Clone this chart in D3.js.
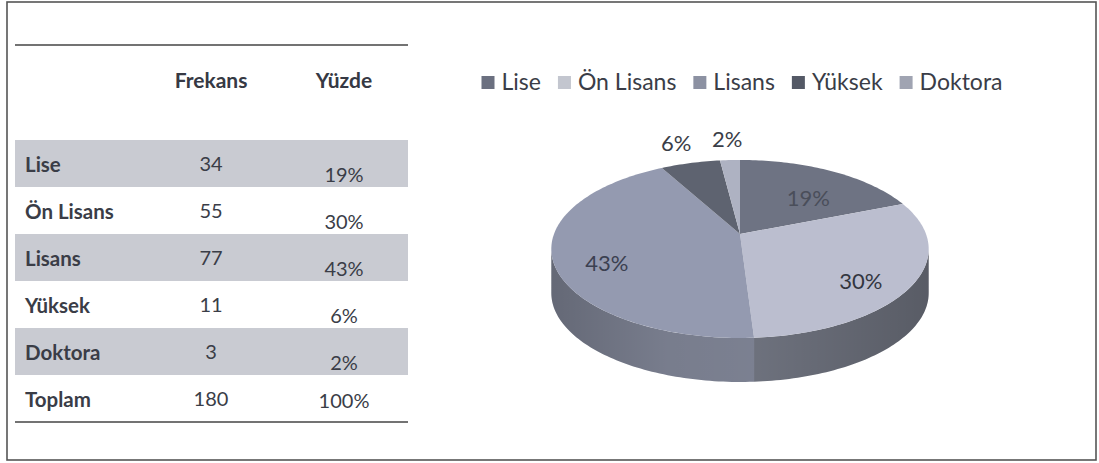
<!DOCTYPE html>
<html>
<head>
<meta charset="utf-8">
<script src="https://cdn.jsdelivr.net/npm/d3@7"></script>
<style>
  body { margin: 0; background: #fff; }
  svg { display: block; }
</style>
</head>
<body>
<svg id="chart" width="1099" height="463"></svg>
<script>
// Education level distribution (n = 180)
const categories = ["Lise", "Ön Lisans", "Lisans", "Yüksek", "Doktora"];
const frequencies = [34, 55, 77, 11, 3];
const shares = [19, 30, 43, 6, 2];
const percentLabels = ["19%", "30%", "43%", "6%", "2%"];
const columnHeaders = ["Frekans", "Yüzde"];
const totalRow = ["Toplam", "180", "100%"];

const topColors  = ["#6e7383", "#bbbecf", "#949ab0", "#5e6370", "#aeb2c2"];
const sideColors = ["#5c606d", "#6f737f", "#7e8394", "#4d515c", "#8f93a2"];
const keyColors  = ["#6b7080", "#c3c6cf", "#8c91a2", "#545966", "#a0a4b2"];

const svg = d3.select("#chart");
const FONT = "Lato, 'Open Sans', sans-serif";
const ink = "#3a3d47";

// outer frame
svg.append("rect")
  .attr("x", 7).attr("y", 2).attr("width", 1089).attr("height", 458)
  .attr("fill", "none").attr("stroke", "#555").attr("stroke-width", 1.6);

// ---------- table ----------
const table = svg.append("g");
const tLeft = 15, tRight = 408;
const rowKeys = [...categories, totalRow[0]];
const y = d3.scaleBand().domain(rowKeys).range([140, 422]).paddingInner(0);
const colX = { label: 25, freq: 211, pct: 344 };

table.append("line").attr("x1", tLeft).attr("x2", tRight).attr("y1", 45).attr("y2", 45)
  .attr("stroke", "#444").attr("stroke-width", 1.6);
table.append("line").attr("x1", tLeft).attr("x2", tRight).attr("y1", y.range()[1]).attr("y2", y.range()[1])
  .attr("stroke", "#444").attr("stroke-width", 1.6);

table.selectAll("text.head").data(columnHeaders).join("text")
  .attr("class", "head")
  .attr("x", (d, i) => i === 0 ? colX.freq : colX.pct)
  .attr("y", 88)
  .attr("text-anchor", "middle")
  .attr("font-family", FONT).attr("font-weight", 700).attr("font-size", 21)
  .attr("fill", "#363944")
  .text(d => d);

// shaded bands on alternating rows
table.selectAll("rect.band").data(rowKeys.filter((d, i) => i % 2 === 0)).join("rect")
  .attr("class", "band")
  .attr("x", tLeft).attr("width", tRight - tLeft)
  .attr("y", d => y(d)).attr("height", y.bandwidth())
  .attr("fill", "#c9cbd2");

const rows = categories.map((c, i) => ({ label: c, freq: String(frequencies[i]), pct: percentLabels[i], total: false }))
  .concat([{ label: totalRow[0], freq: totalRow[1], pct: totalRow[2], total: true }]);

const rowG = table.selectAll("g.row").data(rows).join("g")
  .attr("class", "row")
  .attr("transform", d => `translate(0,${y(d.label)})`);

rowG.append("text")
  .attr("x", colX.label).attr("y", 32)
  .attr("font-family", FONT).attr("font-weight", 700).attr("font-size", 20.5)
  .attr("fill", ink).text(d => d.label);
rowG.append("text")
  .attr("x", colX.freq).attr("y", 31).attr("text-anchor", "middle")
  .attr("font-family", FONT).attr("font-size", 20)
  .attr("fill", ink).text(d => d.freq);
rowG.append("text")
  .attr("x", colX.pct).attr("y", d => d.total ? 33 : 42).attr("text-anchor", "middle")
  .attr("font-family", FONT).attr("font-size", 20)
  .attr("fill", ink).text(d => d.pct);

// ---------- 3D pie (tilted disc with perspective) ----------
// apex = projected centre; A, B = horizontal/vertical half-axes; k = perspective strength
const X0 = 740, Y0 = 234, A = 186, B = 86.5, K = 0.168, depth = 44;
function project(r, a) {
  const u = r * Math.sin(a), v = r * Math.cos(a);
  const s = 1 / (1 + K * v);
  return [X0 + A * u * s, Y0 - B * v * s];
}
const arcs = d3.pie().sort(null).value(d => d)(shares);
const line = d3.line();

function rimPoints(a0, a1, dy = 0) {
  const n = Math.max(2, Math.ceil((a1 - a0) / 0.02));
  return d3.range(n + 1).map(k => {
    const p = project(1, a0 + (a1 - a0) * k / n);
    return [p[0], p[1] + dy];
  });
}

const defs = svg.append("defs");
const shade = defs.append("linearGradient").attr("id", "sideShade")
  .attr("gradientUnits", "userSpaceOnUse")
  .attr("x1", X0 - A).attr("x2", X0 + A).attr("y1", 0).attr("y2", 0);
shade.append("stop").attr("offset", 0).attr("stop-color", "#000").attr("stop-opacity", 0.2);
shade.append("stop").attr("offset", 0.3).attr("stop-color", "#000").attr("stop-opacity", 0.05);
shade.append("stop").attr("offset", 0.55).attr("stop-color", "#000").attr("stop-opacity", 0.02);
shade.append("stop").attr("offset", 1).attr("stop-color", "#000").attr("stop-opacity", 0.2);

// front-wall visibility: angle at which the rim is widest on each side
const turn = Math.acos(-K);
const pie = svg.append("g");
arcs.forEach((d, i) => {
  const s = Math.max(d.startAngle, turn), e = Math.min(d.endAngle, 2 * Math.PI - turn);
  if (e <= s) return;
  const pts = rimPoints(s, e).concat(rimPoints(s, e, depth).reverse());
  const path = line(pts) + "Z";
  pie.append("path").attr("d", path).attr("fill", sideColors[i]);
  pie.append("path").attr("d", path).attr("fill", "url(#sideShade)");
});
pie.selectAll("path.top").data(arcs).join("path")
  .attr("class", "top")
  .attr("d", d => line([project(0, 0), ...rimPoints(d.startAngle, d.endAngle)]) + "Z")
  .attr("fill", (d, i) => topColors[i]);

// data labels: large slices inside the face, small slices beyond the rim
const labelColors = ["#4a4e5a", "#33363f", "#3b4050", "#3a3d47", "#3a3d47"];
pie.selectAll("text.lbl").data(arcs).join("text")
  .attr("class", "lbl")
  .attr("text-anchor", "middle")
  .attr("font-family", FONT).attr("font-size", 22)
  .attr("fill", (d, i) => labelColors[i])
  .each(function (d) {
    const m = (d.startAngle + d.endAngle) / 2;
    const inside = d.data >= 10;
    const p = project(inside ? 0.72 : 1.35, m);
    d3.select(this).attr("x", p[0]).attr("y", p[1] + (inside ? 19 : 8));
  })
  .text((d, i) => percentLabels[i]);

// ---------- legend ----------
const legend = svg.append("g");
const items = legend.selectAll("g").data(categories).join("g");
items.append("rect").attr("width", 13).attr("height", 13).attr("y", -14)
  .attr("fill", (d, i) => keyColors[i]);
items.append("text").attr("x", 20).attr("y", 0)
  .attr("font-family", FONT).attr("font-size", 23).attr("fill", "#3a3d47")
  .text(d => d);
let xPos = 0;
items.each(function () {
  const w = 20 + this.querySelector("text").getComputedTextLength();
  d3.select(this).attr("transform", `translate(${xPos},90)`);
  xPos += w + 17;
});
const legendWidth = xPos - 17;
legend.attr("transform", `translate(${X0 + 2 - legendWidth / 2},0)`);
</script>
</body>
</html>
